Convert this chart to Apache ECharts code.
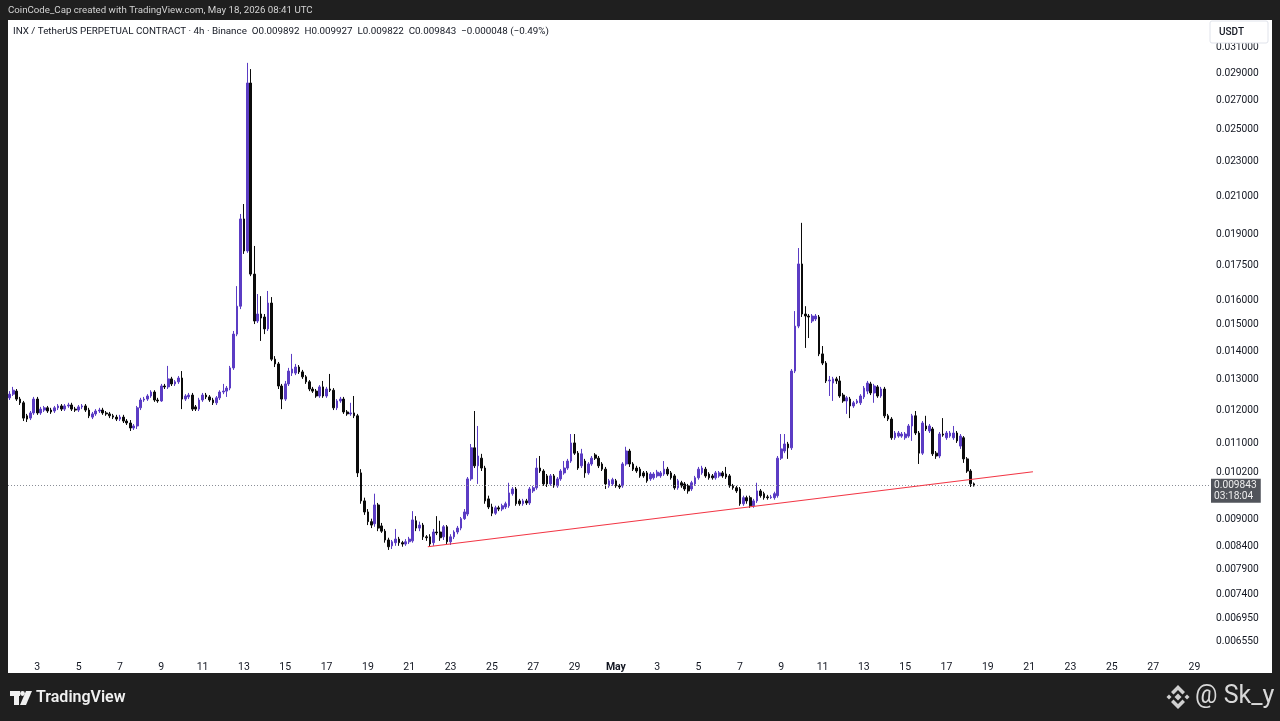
<!DOCTYPE html>
<html>
<head>
<meta charset="utf-8">
<script src="https://cdn.jsdelivr.net/npm/echarts@6.0.0/dist/echarts.min.js"></script>
<style>
html,body{margin:0;padding:0;background:#1f1f1f;}
#chart{width:1280px;height:721px;}
</style>
</head>
<body>
<div id="chart"></div>
<script>
// ---------- DATA ----------
const START_UTC = Date.UTC(2026, 3, 1, 16); // first 4h candle
const N_SLOTS = 349;                        // visible 4h slots on the time axis
const MONTHS = ['Jan','Feb','Mar','Apr','May','Jun','Jul','Aug','Sep','Oct','Nov','Dec'];

// each candle: [open, close, low, high]
const OHLC = [
[0.01239,0.01251,0.01232,0.01261],[0.01251,0.01264,0.01245,0.01275],[0.01261,0.01235,0.01229,0.01268],[0.01235,0.01223,0.01216,0.01242],
[0.01223,0.01175,0.01166,0.01229],[0.01182,0.01172,0.01163,0.01188],[0.01175,0.01191,0.01169,0.01197],[0.01191,0.01235,0.01185,0.01242],
[0.01235,0.01191,0.01185,0.01242],[0.01191,0.01203,0.01185,0.01210],[0.01200,0.01207,0.01194,0.01213],[0.01207,0.01197,0.01191,0.01213],
[0.01200,0.01194,0.01188,0.01207],[0.01197,0.01207,0.01191,0.01213],[0.01207,0.01213,0.01200,0.01219],[0.01213,0.01203,0.01197,0.01219],
[0.01203,0.01213,0.01197,0.01219],[0.01213,0.01216,0.01207,0.01223],[0.01216,0.01203,0.01197,0.01223],[0.01203,0.01200,0.01194,0.01210],
[0.01200,0.01210,0.01194,0.01216],[0.01210,0.01213,0.01203,0.01219],[0.01213,0.01200,0.01194,0.01219],[0.01200,0.01182,0.01175,0.01207],
[0.01178,0.01188,0.01172,0.01194],[0.01188,0.01197,0.01182,0.01203],[0.01197,0.01200,0.01191,0.01207],[0.01200,0.01191,0.01185,0.01207],
[0.01191,0.01188,0.01182,0.01197],[0.01188,0.01182,0.01175,0.01194],[0.01182,0.01178,0.01172,0.01188],[0.01178,0.01172,0.01166,0.01185],
[0.01172,0.01178,0.01166,0.01185],[0.01178,0.01166,0.01160,0.01185],[0.01166,0.01160,0.01154,0.01172],[0.01160,0.01145,0.01136,0.01169],
[0.01145,0.01151,0.01139,0.01157],[0.01151,0.01207,0.01142,0.01213],[0.01207,0.01232,0.01200,0.01239],[0.01232,0.01235,0.01226,0.01242],
[0.01235,0.01245,0.01229,0.01251],[0.01245,0.01258,0.01239,0.01264],[0.01258,0.01232,0.01226,0.01264],[0.01232,0.01229,0.01223,0.01239],
[0.01229,0.01278,0.01226,0.01285],[0.01278,0.01275,0.01268,0.01285],[0.01275,0.01302,0.01268,0.01347],[0.01302,0.01285,0.01278,0.01309],
[0.01285,0.01292,0.01278,0.01298],[0.01292,0.01305,0.01285,0.01312],[0.01305,0.01235,0.01203,0.01329],[0.01235,0.01245,0.01229,0.01251],
[0.01242,0.01248,0.01235,0.01255],[0.01248,0.01203,0.01197,0.01255],[0.01210,0.01203,0.01197,0.01216],[0.01203,0.01232,0.01197,0.01239],
[0.01232,0.01248,0.01226,0.01255],[0.01248,0.01242,0.01235,0.01255],[0.01242,0.01232,0.01226,0.01248],[0.01232,0.01223,0.01216,0.01239],
[0.01223,0.01239,0.01216,0.01245],[0.01239,0.01258,0.01232,0.01264],[0.01258,0.01261,0.01251,0.01285],[0.01261,0.01271,0.01242,0.01278],
[0.01271,0.01340,0.01264,0.01347],[0.01340,0.01464,0.01333,0.01476],[0.01464,0.01575,0.01456,0.01660],[0.01575,0.01979,0.01563,0.02005],
[0.01979,0.01820,0.01806,0.02058],[0.01820,0.02825,0.01811,0.02978],[0.02825,0.01713,0.01704,0.02930],[0.01713,0.01515,0.01503,0.01844],
[0.01515,0.01543,0.01507,0.01626],[0.01543,0.01527,0.01438,0.01617],[0.01531,0.01484,0.01464,0.01543],[0.01484,0.01588,0.01476,0.01639],
[0.01588,0.01371,0.01364,0.01613],[0.01371,0.01354,0.01343,0.01382],[0.01354,0.01278,0.01268,0.01361],[0.01278,0.01235,0.01203,0.01285],
[0.01235,0.01285,0.01229,0.01295],[0.01285,0.01329,0.01278,0.01340],[0.01322,0.01336,0.01312,0.01390],[0.01322,0.01343,0.01315,0.01354],
[0.01343,0.01326,0.01319,0.01350],[0.01326,0.01309,0.01302,0.01333],[0.01309,0.01292,0.01285,0.01315],[0.01292,0.01268,0.01261,0.01298],
[0.01268,0.01261,0.01255,0.01275],[0.01261,0.01245,0.01239,0.01268],[0.01245,0.01275,0.01239,0.01281],[0.01275,0.01245,0.01239,0.01295],
[0.01245,0.01268,0.01239,0.01275],[0.01268,0.01264,0.01258,0.01319],[0.01264,0.01207,0.01200,0.01271],[0.01207,0.01229,0.01200,0.01235],
[0.01229,0.01235,0.01223,0.01242],[0.01235,0.01194,0.01188,0.01242],[0.01194,0.01188,0.01182,0.01200],[0.01188,0.01191,0.01182,0.01223],
[0.01191,0.01182,0.01175,0.01245],[0.01182,0.01018,0.01007,0.01188],[0.01018,0.00946,0.00939,0.01028],[0.00946,0.00919,0.00912,0.00954],
[0.00919,0.00896,0.00888,0.00926],[0.00896,0.00888,0.00881,0.00903],[0.00891,0.00936,0.00884,0.00964],[0.00936,0.00881,0.00874,0.00941],
[0.00886,0.00874,0.00870,0.00893],[0.00874,0.00854,0.00848,0.00879],[0.00854,0.00839,0.00832,0.00859],[0.00841,0.00850,0.00834,0.00854],
[0.00848,0.00856,0.00841,0.00879],[0.00856,0.00848,0.00841,0.00861],[0.00848,0.00845,0.00839,0.00852],[0.00845,0.00850,0.00841,0.00856],
[0.00850,0.00856,0.00845,0.00861],[0.00852,0.00900,0.00848,0.00921],[0.00898,0.00881,0.00874,0.00909],[0.00881,0.00888,0.00874,0.00896],
[0.00888,0.00861,0.00854,0.00893],[0.00861,0.00859,0.00852,0.00865],[0.00861,0.00845,0.00839,0.00867],[0.00848,0.00872,0.00841,0.00879],
[0.00872,0.00870,0.00865,0.00909],[0.00872,0.00859,0.00852,0.00898],[0.00861,0.00884,0.00854,0.00888],[0.00884,0.00850,0.00845,0.00888],
[0.00850,0.00861,0.00843,0.00867],[0.00861,0.00872,0.00856,0.00876],[0.00872,0.00881,0.00867,0.00886],[0.00881,0.00903,0.00876,0.00907],
[0.00903,0.00919,0.00900,0.00926],[0.00914,0.01002,0.00909,0.01007],[0.01002,0.01087,0.00997,0.01098],[0.01087,0.01037,0.01031,0.01197],
[0.01037,0.01064,0.00989,0.01151],[0.01058,0.01031,0.01023,0.01070],[0.01031,0.00946,0.00939,0.01037],[0.00951,0.00931,0.00926,0.00959],
[0.00931,0.00916,0.00909,0.00939],[0.00916,0.00929,0.00912,0.00934],[0.00929,0.00926,0.00921,0.00934],[0.00926,0.00934,0.00921,0.00939],
[0.00931,0.00939,0.00926,0.00944],[0.00934,0.00966,0.00929,0.00992],[0.00964,0.00976,0.00959,0.00981],[0.00976,0.00939,0.00934,0.00981],
[0.00946,0.00939,0.00934,0.00951],[0.00939,0.00946,0.00934,0.00951],[0.00946,0.00941,0.00936,0.00951],[0.00941,0.00976,0.00936,0.00981],
[0.00971,0.00979,0.00966,0.00984],[0.00979,0.01031,0.00974,0.01058],[0.01031,0.01023,0.01018,0.01064],[0.01023,0.00989,0.00984,0.01028],
[0.01010,0.00989,0.00981,0.01015],[0.00989,0.01010,0.00984,0.01015],[0.01010,0.00984,0.00979,0.01015],[0.00984,0.01002,0.00979,0.01007],
[0.01002,0.01023,0.00997,0.01028],[0.01018,0.01031,0.01013,0.01050],[0.01031,0.01050,0.01026,0.01056],[0.01050,0.01101,0.01045,0.01127],
[0.01101,0.01072,0.01067,0.01127],[0.01072,0.01031,0.01026,0.01078],[0.01037,0.01070,0.01031,0.01084],[0.01050,0.01018,0.01005,0.01056],
[0.01018,0.01042,0.01013,0.01047],[0.01042,0.01058,0.01037,0.01064],[0.01067,0.01058,0.01053,0.01072],[0.01058,0.01037,0.01031,0.01064],
[0.01042,0.01028,0.01023,0.01047],[0.01028,0.00989,0.00976,0.01034],[0.00984,0.00997,0.00979,0.01002],[0.00989,0.01000,0.00984,0.01005],
[0.00997,0.00984,0.00979,0.01002],[0.00984,0.00981,0.00976,0.00989],[0.00984,0.01042,0.00979,0.01047],[0.01042,0.01078,0.01037,0.01090],
[0.01078,0.01042,0.01034,0.01084],[0.01042,0.01028,0.01023,0.01047],[0.01031,0.01023,0.01018,0.01037],[0.01028,0.01010,0.01005,0.01034],
[0.01018,0.01010,0.01005,0.01023],[0.01018,0.00997,0.00992,0.01023],[0.01002,0.01015,0.00997,0.01020],[0.01005,0.01015,0.01000,0.01020],
[0.01010,0.01020,0.01005,0.01026],[0.01010,0.01018,0.01005,0.01023],[0.01015,0.01028,0.01010,0.01050],[0.01028,0.01015,0.01010,0.01034],
[0.01018,0.01005,0.01000,0.01023],[0.01010,0.00979,0.00974,0.01015],[0.00979,0.00997,0.00974,0.01002],[0.00992,0.00984,0.00979,0.00997],
[0.00989,0.00976,0.00971,0.00994],[0.00984,0.00971,0.00964,0.00989],[0.00976,0.00992,0.00971,0.00997],[0.00989,0.01005,0.00984,0.01010],
[0.01005,0.01028,0.01000,0.01034],[0.01018,0.01031,0.01013,0.01037],[0.01028,0.01010,0.01005,0.01034],[0.01015,0.01005,0.01000,0.01020],
[0.01010,0.01005,0.01000,0.01015],[0.01005,0.01018,0.01000,0.01023],[0.01010,0.01018,0.01005,0.01023],[0.01018,0.01010,0.01005,0.01023],
[0.01015,0.01007,0.01002,0.01034],[0.01010,0.00984,0.00979,0.01015],[0.00984,0.00979,0.00974,0.00989],[0.00979,0.00971,0.00966,0.00984],
[0.00976,0.00939,0.00934,0.00981],[0.00939,0.00954,0.00934,0.00959],[0.00954,0.00946,0.00939,0.00959],[0.00954,0.00934,0.00929,0.00959],
[0.00934,0.00946,0.00929,0.00951],[0.00946,0.00971,0.00941,0.00992],[0.00971,0.00959,0.00954,0.00976],[0.00964,0.00954,0.00949,0.00969],
[0.00956,0.00954,0.00949,0.00961],[0.00954,0.00956,0.00951,0.00961],[0.00954,0.00964,0.00949,0.00969],[0.00959,0.01058,0.00954,0.01064],
[0.01058,0.01084,0.01053,0.01127],[0.01078,0.01098,0.01072,0.01127],[0.01098,0.01087,0.01056,0.01104],[0.01087,0.01329,0.01081,0.01336],
[0.01329,0.01495,0.01322,0.01555],[0.01495,0.01759,0.01487,0.01834],[0.01759,0.01543,0.01531,0.01959],[0.01543,0.01535,0.01412,0.01575],
[0.01535,0.01531,0.01449,0.01543],[0.01515,0.01535,0.01507,0.01543],[0.01523,0.01535,0.01515,0.01543],[0.01531,0.01390,0.01382,0.01539],
[0.01390,0.01357,0.01350,0.01419],[0.01357,0.01295,0.01288,0.01364],[0.01295,0.01298,0.01245,0.01312],[0.01288,0.01302,0.01229,0.01309],
[0.01302,0.01295,0.01285,0.01309],[0.01295,0.01245,0.01239,0.01312],[0.01248,0.01229,0.01223,0.01255],[0.01229,0.01239,0.01188,0.01245],
[0.01235,0.01213,0.01175,0.01242],[0.01213,0.01223,0.01207,0.01229],[0.01223,0.01229,0.01219,0.01235],[0.01223,0.01245,0.01216,0.01251],
[0.01242,0.01271,0.01235,0.01278],[0.01261,0.01288,0.01251,0.01295],[0.01285,0.01255,0.01248,0.01292],[0.01255,0.01278,0.01223,0.01285],
[0.01275,0.01245,0.01239,0.01281],[0.01245,0.01268,0.01239,0.01275],[0.01268,0.01182,0.01175,0.01275],[0.01182,0.01172,0.01166,0.01188],
[0.01172,0.01116,0.01110,0.01178],[0.01116,0.01130,0.01110,0.01136],[0.01121,0.01130,0.01116,0.01136],[0.01121,0.01127,0.01116,0.01133],
[0.01116,0.01127,0.01110,0.01133],[0.01121,0.01151,0.01116,0.01157],[0.01151,0.01182,0.01107,0.01188],[0.01182,0.01130,0.01124,0.01197],
[0.01130,0.01072,0.01042,0.01136],[0.01072,0.01160,0.01067,0.01166],[0.01151,0.01142,0.01136,0.01182],[0.01136,0.01151,0.01130,0.01157],
[0.01142,0.01070,0.01064,0.01148],[0.01072,0.01064,0.01056,0.01078],[0.01064,0.01127,0.01058,0.01133],[0.01127,0.01124,0.01119,0.01175],
[0.01116,0.01130,0.01110,0.01136],[0.01121,0.01130,0.01116,0.01136],[0.01116,0.01130,0.01110,0.01151],[0.01130,0.01107,0.01101,0.01136],
[0.01092,0.01121,0.01084,0.01127],[0.01116,0.01056,0.01045,0.01121],[0.01056,0.01023,0.01018,0.01061],[0.01023,0.009892,0.00981,0.01028],
[0.009892,0.009843,0.009822,0.009927]
];

const LAST_PRICE = 0.009843;
const LAST_TIMER = '03:18:04';
const Y_TICKS = [0.031, 0.029, 0.027, 0.025, 0.023, 0.021, 0.019, 0.0175, 0.016, 0.015, 0.014, 0.013, 0.012, 0.011, 0.0102, 0.009, 0.0084, 0.0079, 0.0074, 0.00695, 0.00655];
const Y_MIN = 0.006386, Y_MAX = 0.03323;
// trendline anchors: [slot index, price]
const TREND = [[121.4, 0.00839], [297.1, 0.01021]];

const HEADER = 'CoinCode_Cap created with TradingView.com, May 18, 2026 08:41 UTC';
const LEGEND = 'INX / TetherUS PERPETUAL CONTRACT · 4h · Binance  O0.009892  H0.009927  L0.009822  C0.009843  −0.000048 (−0.49%)';

// category labels (4h slots)
const CATS = [];
for (let i = 0; i < N_SLOTS; i++) {
  const d = new Date(START_UTC + i * 4 * 3600 * 1000);
  const p = n => String(n).padStart(2, '0');
  CATS.push(d.getUTCFullYear() + '-' + p(d.getUTCMonth() + 1) + '-' + p(d.getUTCDate()) + ' ' + p(d.getUTCHours()) + ':00');
}

// ---------- CHART ----------
const FONT = 'Roboto, "Liberation Sans", sans-serif';
const chart = echarts.init(document.getElementById('chart'));
const UP = '#5b3cc4', DOWN = '#0b0b0b';

chart.setOption({
  animation: false,
  backgroundColor: '#1f1f1f',
  textStyle: { fontFamily: FONT },
  grid: { left: 8, right: 70, top: 21, bottom: 70, outerBoundsMode: 'none', containLabel: false },
  xAxis: [{
    type: 'category',
    data: CATS,
    boundaryGap: true,
    axisLine: { show: false },
    axisTick: { show: false },
    splitLine: { show: false },
    axisLabel: {
      color: '#131722', fontSize: 10.5, margin: 11, fontFamily: FONT,
      interval: (idx) => idx >= 8 && (idx - 8) % 12 === 0,
      formatter: (v) => {
        const day = Number(v.slice(8, 10));
        const mon = Number(v.slice(5, 7));
        return day === 1 ? '{m|' + MONTHS[mon - 1] + '}' : String(day);
      },
      rich: { m: { fontWeight: 'bold', color: '#131722', fontSize: 10.5, fontFamily: FONT } }
    }
  }, {
    type: 'value', show: false, min: -0.5, max: N_SLOTS - 0.5
  }],
  yAxis: {
    type: 'log', logBase: 10, position: 'right',
    min: Y_MIN, max: Y_MAX,
    axisLine: { show: false },
    axisTick: { show: false },
    splitLine: { show: false },
    axisLabel: {
      customValues: Y_TICKS,
      color: '#131722', fontSize: 10.2, margin: 6, fontFamily: FONT,
      formatter: (v) => Number(v).toFixed(6)
    }
  },
  series: [{
    type: 'candlestick',
    data: OHLC,
    barWidth: 2.2,
    itemStyle: { color: UP, color0: DOWN, borderColor: UP, borderColor0: DOWN, borderWidth: 1 },
    markLine: {
      silent: true, symbol: ['none', 'none'], animation: false, precision: 6,
      lineStyle: { color: '#8a8e97', type: [1, 2], width: 1 },
      label: {
        show: true, position: 'end', distance: 1,
        formatter: () => LAST_PRICE.toFixed(6) + '\n' + LAST_TIMER,
        backgroundColor: '#51545b', color: '#eeeeee', fontSize: 10.2, lineHeight: 11,
        padding: [1, 4, 1, 3], offset: [0, 5], fontFamily: FONT
      },
      data: [{ yAxis: LAST_PRICE }]
    }
  }, {
    type: 'line',
    xAxisIndex: 1,
    data: TREND,
    symbol: 'none',
    silent: true,
    lineStyle: { color: '#f23645', width: 1.2 },
    z: 5
  }],
  graphic: [
    { type: 'rect', z: -10, silent: true, shape: { x: 8, y: 20, width: 1264, height: 653 }, style: { fill: '#ffffff' } },
    { type: 'text', z: 10, x: 8, y: 11, style: { text: HEADER, fill: '#d4d4d4', font: '9.7px ' + FONT, textVerticalAlign: 'middle' } },
    { type: 'text', z: 10, x: 13, y: 32, style: { text: LEGEND, fill: '#131722', font: '9.8px ' + FONT, textVerticalAlign: 'middle' } },
    { type: 'rect', z: 100, shape: { x: 1210, y: 21, width: 58, height: 22, r: 2 }, style: { fill: '#ffffff', stroke: '#e0e3eb', lineWidth: 1 } },
    { type: 'text', z: 101, x: 1219, y: 32, style: { text: 'USDT', fill: '#131722', font: '500 10px ' + FONT, textVerticalAlign: 'middle' } },
    // TradingView logo
    { type: 'rect', z: 10, shape: { x: 10, y: 691, width: 10, height: 5 }, style: { fill: '#f0f0f0' } },
    { type: 'rect', z: 10, shape: { x: 14, y: 691, width: 5, height: 14 }, style: { fill: '#f0f0f0' } },
    { type: 'circle', z: 10, shape: { cx: 22.5, cy: 693.5, r: 2.4 }, style: { fill: '#f0f0f0' } },
    { type: 'polygon', z: 10, shape: { points: [[26, 691], [32, 691], [26, 705], [20, 705]] }, style: { fill: '#f0f0f0' } },
    { type: 'text', z: 10, x: 36, y: 698, style: { text: 'TradingView', fill: '#f0f0f0', font: '600 16px ' + FONT, textVerticalAlign: 'middle' } },
    // signature logo
    { type: 'polygon', z: 10, shape: { points: [[1178, 693.5], [1181.5, 697], [1178, 700.5], [1174.5, 697]] }, style: { fill: '#d0d0d0' } },
    { type: 'polygon', z: 10, shape: { points: [[1169, 694.5], [1171.5, 697], [1169, 699.5], [1166.5, 697]] }, style: { fill: '#d0d0d0' } },
    { type: 'polygon', z: 10, shape: { points: [[1187, 694.5], [1189.5, 697], [1187, 699.5], [1184.5, 697]] }, style: { fill: '#d0d0d0' } },
    { type: 'polygon', z: 10, shape: { points: [[1178, 685], [1185, 692], [1182.5, 694.5], [1178, 690], [1173.5, 694.5], [1171, 692]] }, style: { fill: '#d0d0d0' } },
    { type: 'polygon', z: 10, shape: { points: [[1178, 709], [1185, 702], [1182.5, 699.5], [1178, 704], [1173.5, 699.5], [1171, 702]] }, style: { fill: '#d0d0d0' } },
    { type: 'text', z: 10, x: 1195, y: 697, style: { text: '@ Sk_y', fill: '#d8d8d8', font: '25px ' + FONT, textVerticalAlign: 'middle' } }
  ]
});
</script>
</body>
</html>
